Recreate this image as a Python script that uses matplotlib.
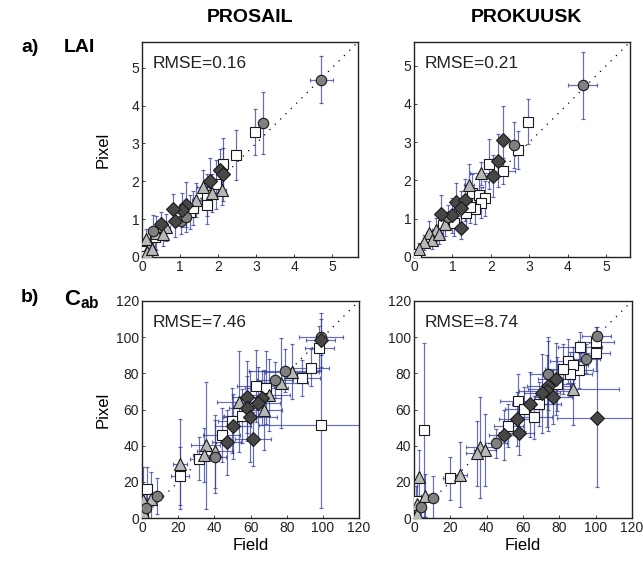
import numpy as np
import matplotlib
matplotlib.use("Agg")
import matplotlib.pyplot as plt

plt.rcParams['font.family'] = ['Liberation Sans', 'DejaVu Sans']
plt.rcParams['mathtext.fontset'] = 'custom'
plt.rcParams['mathtext.rm'] = 'Liberation Sans'
plt.rcParams['mathtext.bf'] = 'Liberation Sans:bold'

# ---------------- data ----------------
# kinds: D = diamond, O = circle, T = triangle, S = square
lai_prosail_kind = ['O','O','S','S','S','D','D','T','D','T','S','S','T','D','D','D','S','D','O','D',
                    'T','T','O','T','T','S','T','S','T','S','T','S','O','S','T']
lai_prosail_x = [4.71,3.17,2.96,2.46,2.14,2.04,2.12,2.10,1.78,1.60,1.70,1.72,1.43,1.16,1.04,0.82,1.25,0.87,1.02,0.50,
                 0.64,0.37,0.30,0.20,0.10,0.04,0.12,0.35,0.55,1.35,1.85,1.95,1.15,0.05,0.25]
lai_prosail_y = [4.68,3.54,3.30,2.70,2.45,2.31,2.18,1.78,2.01,1.85,1.63,1.38,1.50,1.38,1.24,1.27,1.18,0.94,0.96,0.88,
                 0.78,0.64,0.70,0.32,0.48,0.16,0.12,0.52,0.60,1.30,1.70,1.92,1.05,0.02,0.20]
lai_prosail_xerr = [0.30,0.10,0.08,0.10,0.12,0.15,0.12,0.10,0.15,0.15,0.10,0.10,0.12,0.12,0.15,0.12,0.10,0.10,0.10,0.08,
                    0.10,0.08,0.06,0.05,0.05,0.03,0.04,0.05,0.08,0.12,0.12,0.10,0.10,0.03,0.05]
lai_prosail_yerr = [0.62,0.82,0.60,0.66,0.70,0.55,0.70,0.40,0.60,0.45,0.55,0.50,0.45,0.60,0.45,0.40,0.45,0.40,0.35,0.30,
                    0.35,0.45,0.40,0.30,0.25,0.15,0.15,0.30,0.30,0.45,0.50,0.65,0.40,0.05,0.20]

lai_prokuusk_kind = ['O','S','D','O','S','D','S','S','D','T','T','S','S','S','S','S','D','D','D','D',
                     'D','D','O','S','T','T','T','T','S','T','S','S','T','S','T']
lai_prokuusk_x = [4.39,2.96,2.32,2.61,2.70,2.19,1.96,2.32,2.06,1.75,1.43,1.52,1.68,1.84,1.75,1.58,1.10,1.32,1.21,0.98,
                  0.70,1.23,0.88,1.36,0.57,0.39,0.48,0.26,0.75,0.13,0.04,1.45,0.80,1.05,0.65]
lai_prokuusk_y = [4.49,3.54,3.06,2.92,2.80,2.52,2.43,2.25,2.12,2.19,1.88,1.68,1.62,1.53,1.42,1.26,1.44,1.49,1.28,1.09,
                  1.13,0.77,1.05,1.14,0.71,0.64,0.45,0.38,0.84,0.22,0.08,1.30,0.85,0.90,0.60]
lai_prokuusk_xerr = [0.38,0.10,0.10,0.12,0.12,0.12,0.12,0.30,0.12,0.30,0.12,0.10,0.10,0.10,0.10,0.10,0.10,0.15,0.12,0.15,
                     0.10,0.05,0.10,0.10,0.10,0.08,0.08,0.06,0.10,0.05,0.03,0.10,0.10,0.10,0.08]
lai_prokuusk_yerr = [0.88,0.58,0.88,0.60,0.50,0.70,0.65,0.35,0.55,0.30,0.55,0.50,0.45,0.45,0.40,0.40,0.50,0.55,0.45,0.45,
                     0.50,0.30,0.30,0.35,0.30,0.30,0.25,0.20,0.35,0.15,0.08,0.40,0.30,0.35,0.25]

cab_prosail_kind = ['D','O','S','S','S','S','T','O','T','O','S','S','D','D','D','D','T','T','D','S',
                    'S','D','D','D','S','T','T','O','T','S','T','S','O','T','T','O','T','S','S','T']
cab_prosail_x = [98.8,99.0,97.9,98.8,93.3,88.5,83.0,79.0,76.8,73.4,68.8,62.8,66.6,64.2,57.8,58.2,67.4,53.6,59.6,55.4,
                 49.9,50.4,61.5,46.8,44.0,35.3,40.3,40.3,34.2,31.7,21.0,21.0,8.5,4.8,0.7,2.2,0.7,0.5,3.0,70.0]
cab_prosail_y = [98.5,100.0,93.9,51.5,83.2,77.3,81.0,81.5,74.5,76.4,72.1,73.0,66.3,63.5,66.8,60.7,59.8,64.4,56.1,56.5,
                 53.7,50.6,43.6,41.8,46.0,40.1,36.8,34.0,35.0,32.8,30.0,23.0,12.0,10.5,10.0,5.5,3.1,0.5,16.0,68.0]
cab_prosail_xerr = [8,12,8,34,10,10,15,20,15,10,12,10,10,12,8,10,10,12,15,10,
                    8,10,10,8,10,8,10,6,6,5,4,5,3,2,1,1,1,1,1,12]
cab_prosail_yerr = [15,10,12,46,10,10,15,12,25,10,20,20,15,20,20,18,22,28,25,15,
                    18,18,15,18,15,35,20,20,15,12,25,16,10,15,18,8,4,2,12,20]

cab_prokuusk_kind = ['O','S','S','D','S','O','S','S','S','S','S','O','T','D','D','D','D','D','S','S',
                     'D','S','S','S','D','D','S','D','O','T','T','T','S','T','S','O','T','T','T','O','T','S']
cab_prokuusk_x = [100.5,100.0,100.0,100.5,91.3,94.6,90.8,84.9,87.7,85.8,82.2,73.6,87.7,78.0,74.0,73.0,70.3,76.7,78.5,69.0,
                  64.0,57.5,60.3,66.1,56.6,58.0,52.0,49.3,45.1,36.5,38.9,34.7,19.7,25.2,5.5,10.4,5.8,2.7,1.8,3.7,1.8,0.9]
cab_prokuusk_y = [100.7,97.4,91.2,55.2,94.8,88.2,81.8,86.9,84.5,79.6,82.3,79.9,71.6,76.8,73.1,70.3,68.9,67.0,74.0,63.0,
                  63.0,64.8,60.2,55.6,54.7,47.0,51.0,46.0,41.4,39.0,37.7,35.9,21.9,23.9,48.8,11.0,12.3,22.5,7.7,5.9,2.2,9.6]
cab_prokuusk_xerr = [8,10,8,22,12,8,8,10,8,12,10,10,25,10,12,15,10,10,8,12,
                     10,10,10,10,10,8,8,8,6,8,6,6,4,4,3,3,2,1,1,1,1,1]
cab_prokuusk_yerr = [5,8,10,38,8,8,10,12,10,12,14,20,20,20,25,20,22,15,15,12,
                     18,15,12,12,15,12,12,14,8,28,20,18,12,18,48,12,12,15,12,6,3,8]

panel_titles = ['PROSAIL', 'PROKUUSK']
rmse_labels = [['RMSE=0.16', 'RMSE=0.21'], ['RMSE=7.46', 'RMSE=8.74']]
lai_ticks = [0, 1, 2, 3, 4, 5]
cab_ticks = [0, 20, 40, 60, 80, 100, 120]

# ---------------- style ----------------
styles = {
    'D': dict(marker='D', mfc='#474747', ms=6.8),
    'O': dict(marker='o', mfc='#808080', ms=7.5),
    'T': dict(marker='^', mfc='#b8b8b8', ms=8.0),
    'S': dict(marker='s', mfc='white', ms=6.8),
}
ebar_color = '#2b3899'

fig = plt.figure(figsize=(6.43, 5.68), dpi=100)
W, H = 643.0, 568.0
positions = [
    [142/W, 1-257/H, 216/W, 215/H],
    [414/W, 1-257/H, 216/W, 215/H],
    [142/W, 1-518/H, 217/W, 217/H],
    [414/W, 1-518/H, 218/W, 217/H],
]

panels = [
    (lai_prosail_x, lai_prosail_y, lai_prosail_xerr, lai_prosail_yerr, lai_prosail_kind, 5.68, lai_ticks),
    (lai_prokuusk_x, lai_prokuusk_y, lai_prokuusk_xerr, lai_prokuusk_yerr, lai_prokuusk_kind, 5.62, lai_ticks),
    (cab_prosail_x, cab_prosail_y, cab_prosail_xerr, cab_prosail_yerr, cab_prosail_kind, 120, cab_ticks),
    (cab_prokuusk_x, cab_prokuusk_y, cab_prokuusk_xerr, cab_prokuusk_yerr, cab_prokuusk_kind, 120, cab_ticks),
]

for i, (x, y, xe, ye, kind, lim, ticks) in enumerate(panels):
    ax = fig.add_axes(positions[i])
    x = np.array(x); y = np.array(y); xe = np.array(xe); ye = np.array(ye)
    ax.plot([0, lim], [0, lim], linestyle=(0, (1, 5)), color='black', lw=0.9, zorder=1)
    ax.errorbar(x, y, xerr=xe, yerr=ye, fmt='none', ecolor=ebar_color, elinewidth=0.85,
                capsize=1.6, capthick=0.85, alpha=0.72, zorder=2)
    kind = np.array(kind)
    for k in ['S', 'T', 'O', 'D']:
        m = kind == k
        st = styles[k]
        ax.plot(x[m], y[m], linestyle='none', marker=st['marker'], markersize=st['ms'],
                markerfacecolor=st['mfc'], markeredgecolor='#1a1a1a', markeredgewidth=0.8, zorder=3)
    ax.set_xlim(0, lim)
    ax.set_ylim(0, lim)
    ax.set_xticks(ticks)
    ax.set_yticks(ticks)
    ax.tick_params(direction='in', length=2.5, width=0.6, labelsize=10, pad=2, colors='#222222')
    for s in ax.spines.values():
        s.set_linewidth(1.0)
        s.set_color('#222222')
    ax.text(0.047, 0.9, rmse_labels[i // 2][i % 2], transform=ax.transAxes,
            fontsize=12.5, va='center', ha='left', color='#222222')
    if i % 2 == 0:
        ax.set_ylabel('Pixel', fontsize=12)
        ax.yaxis.set_label_coords((111 - 142) / 216.0, 0.5)
    if i >= 2:
        ax.set_xlabel('Field', fontsize=12, labelpad=2)

fig.text(250/W, 1-17/H, panel_titles[0], fontsize=14, fontweight='bold', ha='center', va='center')
fig.text(526/W, 1-17/H, panel_titles[1], fontsize=14, fontweight='bold', ha='center', va='center')
fig.text(21/W, 1-47/H, 'a)', fontsize=14, fontweight='bold', ha='left', va='center')
fig.text(64/W, 1-47/H, 'LAI', fontsize=14, fontweight='bold', ha='left', va='center')
fig.text(21/W, 1-297/H, 'b)', fontsize=14, fontweight='bold', ha='left', va='center')
fig.text(64/W, 1-300/H, r'$\mathbf{C_{ab}}$', fontsize=16, ha='left', va='center')

fig.savefig('out.png', dpi=100)
